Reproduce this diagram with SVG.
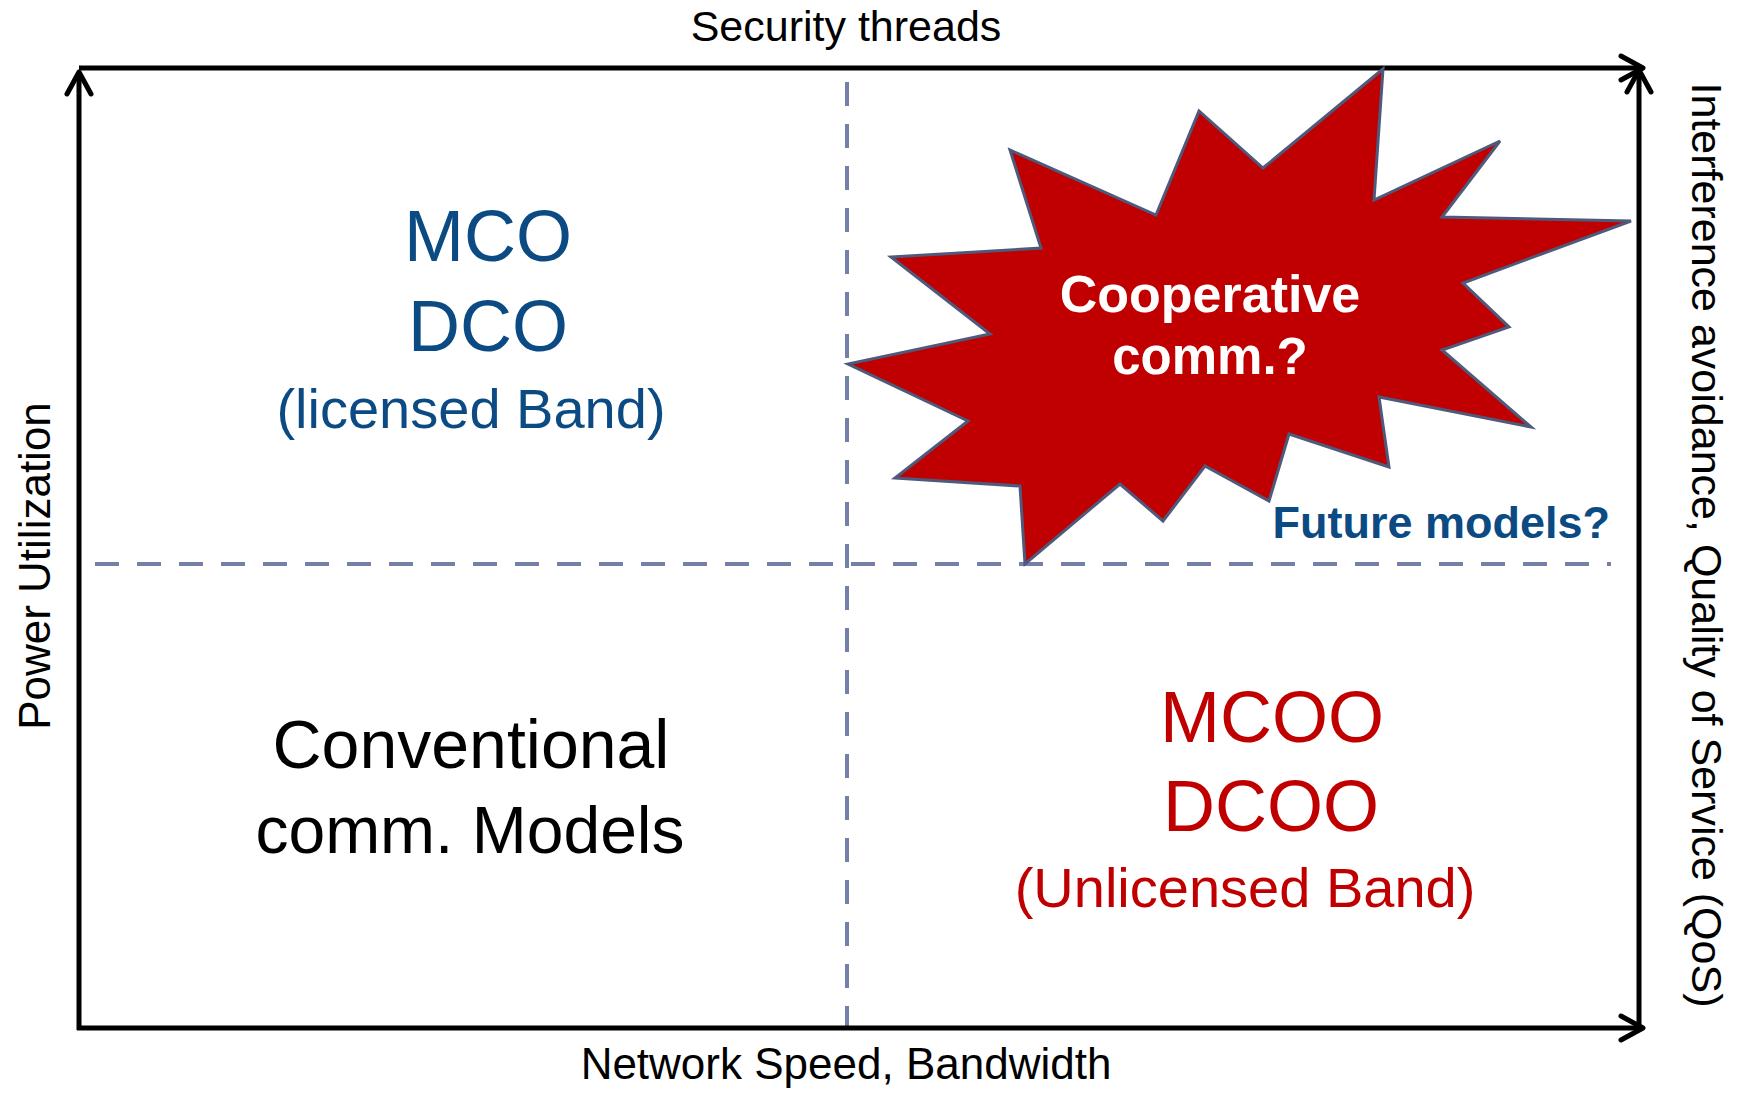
<svg xmlns="http://www.w3.org/2000/svg" width="1746" height="1093" viewBox="0 0 1746 1093">
<style>
.t{font-family:"Liberation Sans",Arial,sans-serif}
.blk{fill:#000}
.blue{fill:#0B4A83}
.red{fill:#C00000}
.axis{stroke:#000;stroke-width:5;fill:none}
.dash{stroke:#7480A8;stroke-width:4;stroke-dasharray:24 18;fill:none}
</style>
<defs>
<marker id="arr" markerUnits="userSpaceOnUse" viewBox="-28 -16 34 32" refX="0" refY="0" markerWidth="34" markerHeight="32" orient="auto">
<path d="M-22,-12 L0,0 L-22,12" fill="none" stroke="#000" stroke-width="5" stroke-linecap="round" stroke-linejoin="round"/>
</marker>
</defs>
<rect width="1746" height="1093" fill="#fff"/>
<g id="connectors">
<line class="dash" x1="847" y1="82" x2="847" y2="1026"/>
<line class="dash" x1="95" y1="564" x2="1611" y2="564"/>
<line class="axis" x1="79" y1="1030" x2="79" y2="72" marker-end="url(#arr)"/>
<line class="axis" x1="79" y1="68" x2="1643" y2="68" marker-end="url(#arr)"/>
<line class="axis" x1="1639" y1="1028" x2="1639" y2="70" marker-end="url(#arr)"/>
<line class="axis" x1="77" y1="1028" x2="1643" y2="1028" marker-end="url(#arr)"/>
</g>
<g id="starburst">
<polygon points="1383,69 1374,200 1500,141 1442,217 1631,221 1463,283 1509,327 1442,350 1531,427 1379,397 1389,467 1289,434 1269,501 1205,466 1163,521 1120,484 1025,564 1020,486 895,478 968,421 848,364 990,334 891,257 1041,248 1010,150 1156,215 1199,111 1263,168" fill="#C00000" stroke="#4E5A7C" stroke-width="3" stroke-linejoin="miter"/>
<text class="t" x="1210" y="312" text-anchor="middle" font-size="52" font-weight="bold" fill="#fff">Cooperative</text>
<text class="t" x="1210" y="374" text-anchor="middle" font-size="51" font-weight="bold" fill="#fff">comm.?</text>
</g>
<g id="future">
<text class="t blue" x="1610" y="538" text-anchor="end" font-size="45" font-weight="bold">Future models?</text>
</g>
<g id="licensed">
<text class="t blue" x="488" y="261" text-anchor="middle" font-size="72">MCO</text>
<text class="t blue" x="488" y="351" text-anchor="middle" font-size="72">DCO</text>
<text class="t blue" x="471" y="428" text-anchor="middle" font-size="56">(licensed Band)</text>
</g>
<g id="conventional">
<text class="t blk" x="471" y="768" text-anchor="middle" font-size="68">Conventional</text>
<text class="t blk" x="470" y="853" text-anchor="middle" font-size="66">comm. Models</text>
</g>
<g id="unlicensed">
<text class="t red" x="1272" y="742" text-anchor="middle" font-size="72">MCOO</text>
<text class="t red" x="1271" y="831" text-anchor="middle" font-size="72">DCOO</text>
<text class="t red" x="1245" y="907" text-anchor="middle" font-size="56">(Unlicensed Band)</text>
</g>
<g id="labels">
<text class="t blk" x="846" y="41" text-anchor="middle" font-size="43">Security threads</text>
<text class="t blk" x="846" y="1079" text-anchor="middle" font-size="44">Network Speed, Bandwidth</text>
<text class="t blk" transform="translate(50,566) rotate(-90)" text-anchor="middle" font-size="44">Power Utilization</text>
<text class="t blk" transform="translate(1692,545) rotate(90)" text-anchor="middle" font-size="43">Interference avoidance, Quality of Service (QoS)</text>
</g>
</svg>
